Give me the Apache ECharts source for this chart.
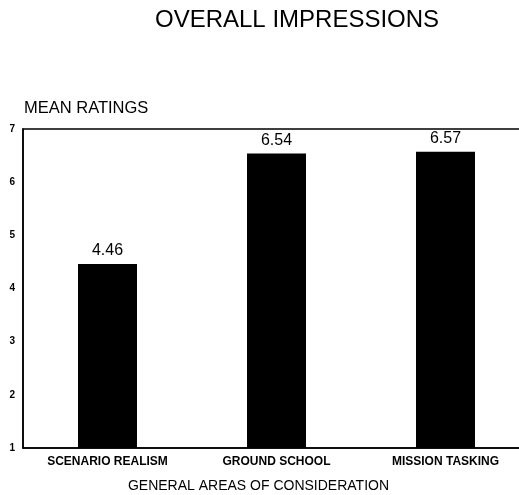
<!DOCTYPE html>
<html>
<head>
<meta charset="utf-8">
<script src="https://cdn.jsdelivr.net/npm/echarts@6/dist/echarts.min.js"></script>
<style>
  html, body { margin: 0; padding: 0; background: #fff; overflow: hidden; }
  #chart { width: 519px; height: 495px; }
</style>
</head>
<body>
<div id="chart"></div>
<script>
// Mean ratings by area of consideration
const categories = ['SCENARIO REALISM', 'GROUND SCHOOL', 'MISSION TASKING'];
const meanRatings = [4.46, 6.54, 6.57];
const yTicks = [1, 2, 3, 4, 5, 6, 7];

const FONT = '"Liberation Sans", Arial, Helvetica, sans-serif';

const chart = echarts.init(document.getElementById('chart'));
chart.setOption({
  backgroundColor: '#fff',
  animation: false,
  title: {
    text: 'OVERALL IMPRESSIONS',
    left: 150,
    top: 3,
    textStyle: { fontFamily: FONT, fontSize: 24, fontWeight: 'normal', color: '#000' }
  },
  grid: {
    // the plot frame runs past the right edge of the page
    left: 23,
    width: 507,
    top: 129,
    bottom: 47,
    outerBoundsMode: 'none',
    containLabel: false,
    show: true,
    borderColor: '#000',
    borderWidth: 1.5,
    backgroundColor: 'transparent'
  },
  xAxis: {
    type: 'category',
    data: categories,
    name: 'GENERAL AREAS OF CONSIDERATION',
    nameLocation: 'middle',
    nameGap: 31,
    nameTextStyle: { fontFamily: FONT, fontSize: 14, color: '#000', padding: [0, 0, 0, -36] },
    axisLine: { lineStyle: { color: '#000', width: 1.5 } },
    axisTick: { show: false },
    axisLabel: {
      fontFamily: FONT, fontSize: 12, fontWeight: 'bold', color: '#000', margin: 8
    }
  },
  yAxis: {
    type: 'value',
    min: yTicks[0],
    max: yTicks[yTicks.length - 1],
    interval: 1,
    name: 'MEAN RATINGS',
    nameLocation: 'end',
    nameGap: 12,
    nameTextStyle: { fontFamily: FONT, fontSize: 16.5, color: '#000', align: 'left', padding: [0, 0, 0, 1] },
    axisLine: { show: true, lineStyle: { color: '#000', width: 1.5 } },
    axisTick: { show: false },
    splitLine: { show: false },
    axisLabel: {
      fontFamily: FONT, fontSize: 10, fontWeight: 'bold', color: '#000', margin: 8
    }
  },
  series: [{
    type: 'bar',
    data: meanRatings,
    barWidth: 59,
    itemStyle: { color: '#000' },
    label: {
      show: true,
      position: 'top',
      distance: 5,
      formatter: p => p.value.toFixed(2),
      fontFamily: FONT,
      fontSize: 16,
      color: '#000'
    }
  }]
});
</script>
</body>
</html>
